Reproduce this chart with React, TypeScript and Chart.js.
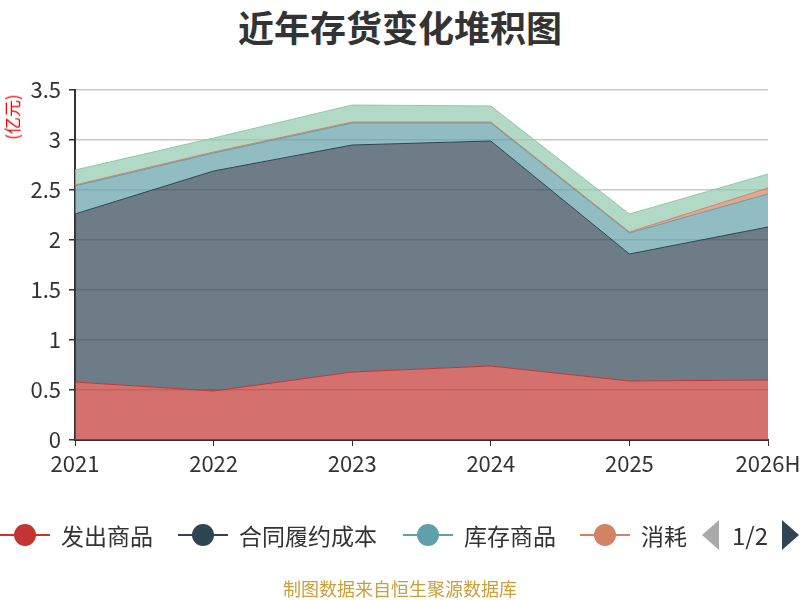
import React, { useEffect, useRef } from 'react';
import { Chart, ChartConfiguration, registerables } from 'chart.js';

Chart.register(...registerables);

const years = ['2021', '2022', '2023', '2024', '2025', '2026H'];
// 亿元, one array per stacked series
const shippedGoods = [0.58, 0.49, 0.68, 0.74, 0.59, 0.6];
const contractCosts = [1.68, 2.2, 2.27, 2.25, 1.27, 1.53];
const stockGoods = [0.28, 0.18, 0.22, 0.18, 0.21, 0.33];
const consumables = [0.01, 0.01, 0.01, 0.01, 0.01, 0.06];
const rawMaterials = [0.15, 0.14, 0.17, 0.16, 0.18, 0.14];
const yMax = 3.5;
const yStep = 0.5;

const FONT = '"Noto Sans CJK SC", "Noto Sans", sans-serif';

const seriesList = [
  { name: '发出商品', data: shippedGoods, color: '#c23531', fill: 'rgba(194, 53, 49, 0.7)' },
  { name: '合同履约成本', data: contractCosts, color: '#2f4554', fill: 'rgba(47, 69, 84, 0.7)' },
  { name: '库存商品', data: stockGoods, color: '#61a0a8', fill: 'rgba(97, 160, 168, 0.7)' },
  { name: '消耗性生物资产', data: consumables, color: '#d48265', fill: 'rgba(212, 130, 101, 0.7)' },
  { name: '原材料', data: rawMaterials, color: '#91c7ae', fill: 'rgba(145, 199, 174, 0.7)' }
];

// legend page 1 shows four items, the last one cut off by the scroll area
const legendLefts = [0, 178, 403, 580];

const StackedInventoryChart: React.FC = () => {
  const chartRef = useRef<HTMLCanvasElement>(null);
  const chartInstanceRef = useRef<Chart | null>(null);

  useEffect(() => {
    if (!chartRef.current) return;
    if (chartInstanceRef.current) chartInstanceRef.current.destroy();
    const ctx = chartRef.current.getContext('2d');
    if (!ctx) return;

    const config: ChartConfiguration<'line'> = {
      type: 'line',
      data: {
        labels: years,
        datasets: seriesList.map((s, i) => ({
          label: s.name,
          data: s.data,
          borderColor: s.color,
          backgroundColor: s.fill,
          borderWidth: 1,
          pointRadius: 0,
          tension: 0,
          fill: i === 0 ? 'origin' : '-1'
        }))
      },
      options: {
        responsive: false,
        animation: false,
        layout: { padding: { left: 0, right: 32, top: 90, bottom: 110 } },
        plugins: {
          legend: { display: false },
          title: { display: false },
          tooltip: { enabled: false }
        },
        scales: {
          x: {
            offset: false,
            grid: {
              drawOnChartArea: false,
              color: '#333',
              tickColor: '#333',
              tickLength: 6
            },
            border: { color: '#333', width: 2 },
            ticks: {
              color: '#333',
              font: { family: FONT, size: 22 },
              padding: 4,
              maxRotation: 0
            },
            afterFit: (scale) => {
              scale.height = 50;
              scale.paddingLeft = 0;
              scale.paddingRight = 0;
            }
          },
          y: {
            stacked: true,
            min: 0,
            max: yMax,
            ticks: {
              stepSize: yStep,
              color: '#333',
              font: { family: FONT, size: 22 },
              padding: 8,
              callback: (value) => String(Number(value))
            },
            grid: {
              color: '#c8c8c8',
              tickColor: '#333',
              tickLength: 6,
              lineWidth: 1.5
            },
            border: { color: '#333', width: 2 },
            afterFit: (scale) => {
              scale.width = 75;
              scale.paddingTop = 0;
              scale.paddingBottom = 0;
            }
          }
        }
      }
    };

    chartInstanceRef.current = new Chart(ctx, config);
    return () => {
      if (chartInstanceRef.current) {
        chartInstanceRef.current.destroy();
        chartInstanceRef.current = null;
      }
    };
  }, []);

  return (
    <div
      style={{
        position: 'fixed',
        left: 0,
        top: 0,
        width: 800,
        height: 600,
        background: '#fff',
        fontFamily: FONT,
        overflow: 'hidden'
      }}
    >
      <div
        style={{
          position: 'absolute',
          top: 1,
          left: 0,
          width: 800,
          textAlign: 'center',
          fontSize: 36,
          fontWeight: 'bold',
          color: '#333',
          lineHeight: '50px'
        }}
      >
        近年存货变化堆积图
      </div>
      <canvas ref={chartRef} width={800} height={600} style={{ position: 'absolute', left: 0, top: 0 }} />
      <div
        style={{
          position: 'absolute',
          left: 12,
          top: 117,
          transform: 'translate(-50%, -50%) rotate(-90deg)',
          color: 'red',
          fontSize: 17,
          whiteSpace: 'nowrap',
          lineHeight: '20px'
        }}
      >
        (亿元)
      </div>

      {/* Legend, first page */}
      <div style={{ position: 'absolute', left: 0, top: 517, width: 686, height: 36, overflow: 'hidden' }}>
        {seriesList.slice(0, 4).map((s, i) => (
          <div
            key={s.name}
            style={{
              position: 'absolute',
              left: legendLefts[i],
              top: 0,
              height: 36,
              display: 'flex',
              alignItems: 'center',
              whiteSpace: 'nowrap'
            }}
          >
            <div style={{ position: 'relative', width: 50, height: 36 }}>
              <div style={{ position: 'absolute', left: 0, top: 17, width: 50, height: 2, background: s.color }} />
              <div
                style={{
                  position: 'absolute',
                  left: 14,
                  top: 7,
                  width: 22,
                  height: 22,
                  borderRadius: '50%',
                  background: s.color
                }}
              />
            </div>
            <span style={{ marginLeft: 11, fontSize: 23, color: '#333', lineHeight: '36px' }}>{s.name}</span>
          </div>
        ))}
      </div>
      <div
        style={{
          position: 'absolute',
          left: 702,
          top: 520,
          width: 0,
          height: 0,
          borderTop: '15px solid transparent',
          borderBottom: '15px solid transparent',
          borderRight: '17px solid #aaa'
        }}
      />
      <div style={{ position: 'absolute', left: 732, top: 517, fontSize: 24, color: '#333', lineHeight: '36px' }}>1/2</div>
      <div
        style={{
          position: 'absolute',
          left: 782,
          top: 520,
          width: 0,
          height: 0,
          borderTop: '15px solid transparent',
          borderBottom: '15px solid transparent',
          borderLeft: '17px solid #2f4554'
        }}
      />

      <div
        style={{
          position: 'absolute',
          left: 0,
          top: 576,
          width: 800,
          textAlign: 'center',
          fontSize: 18,
          color: '#c9a03a',
          lineHeight: '24px'
        }}
      >
        制图数据来自恒生聚源数据库
      </div>
    </div>
  );
};

export default function App() {
  return <StackedInventoryChart />;
}
